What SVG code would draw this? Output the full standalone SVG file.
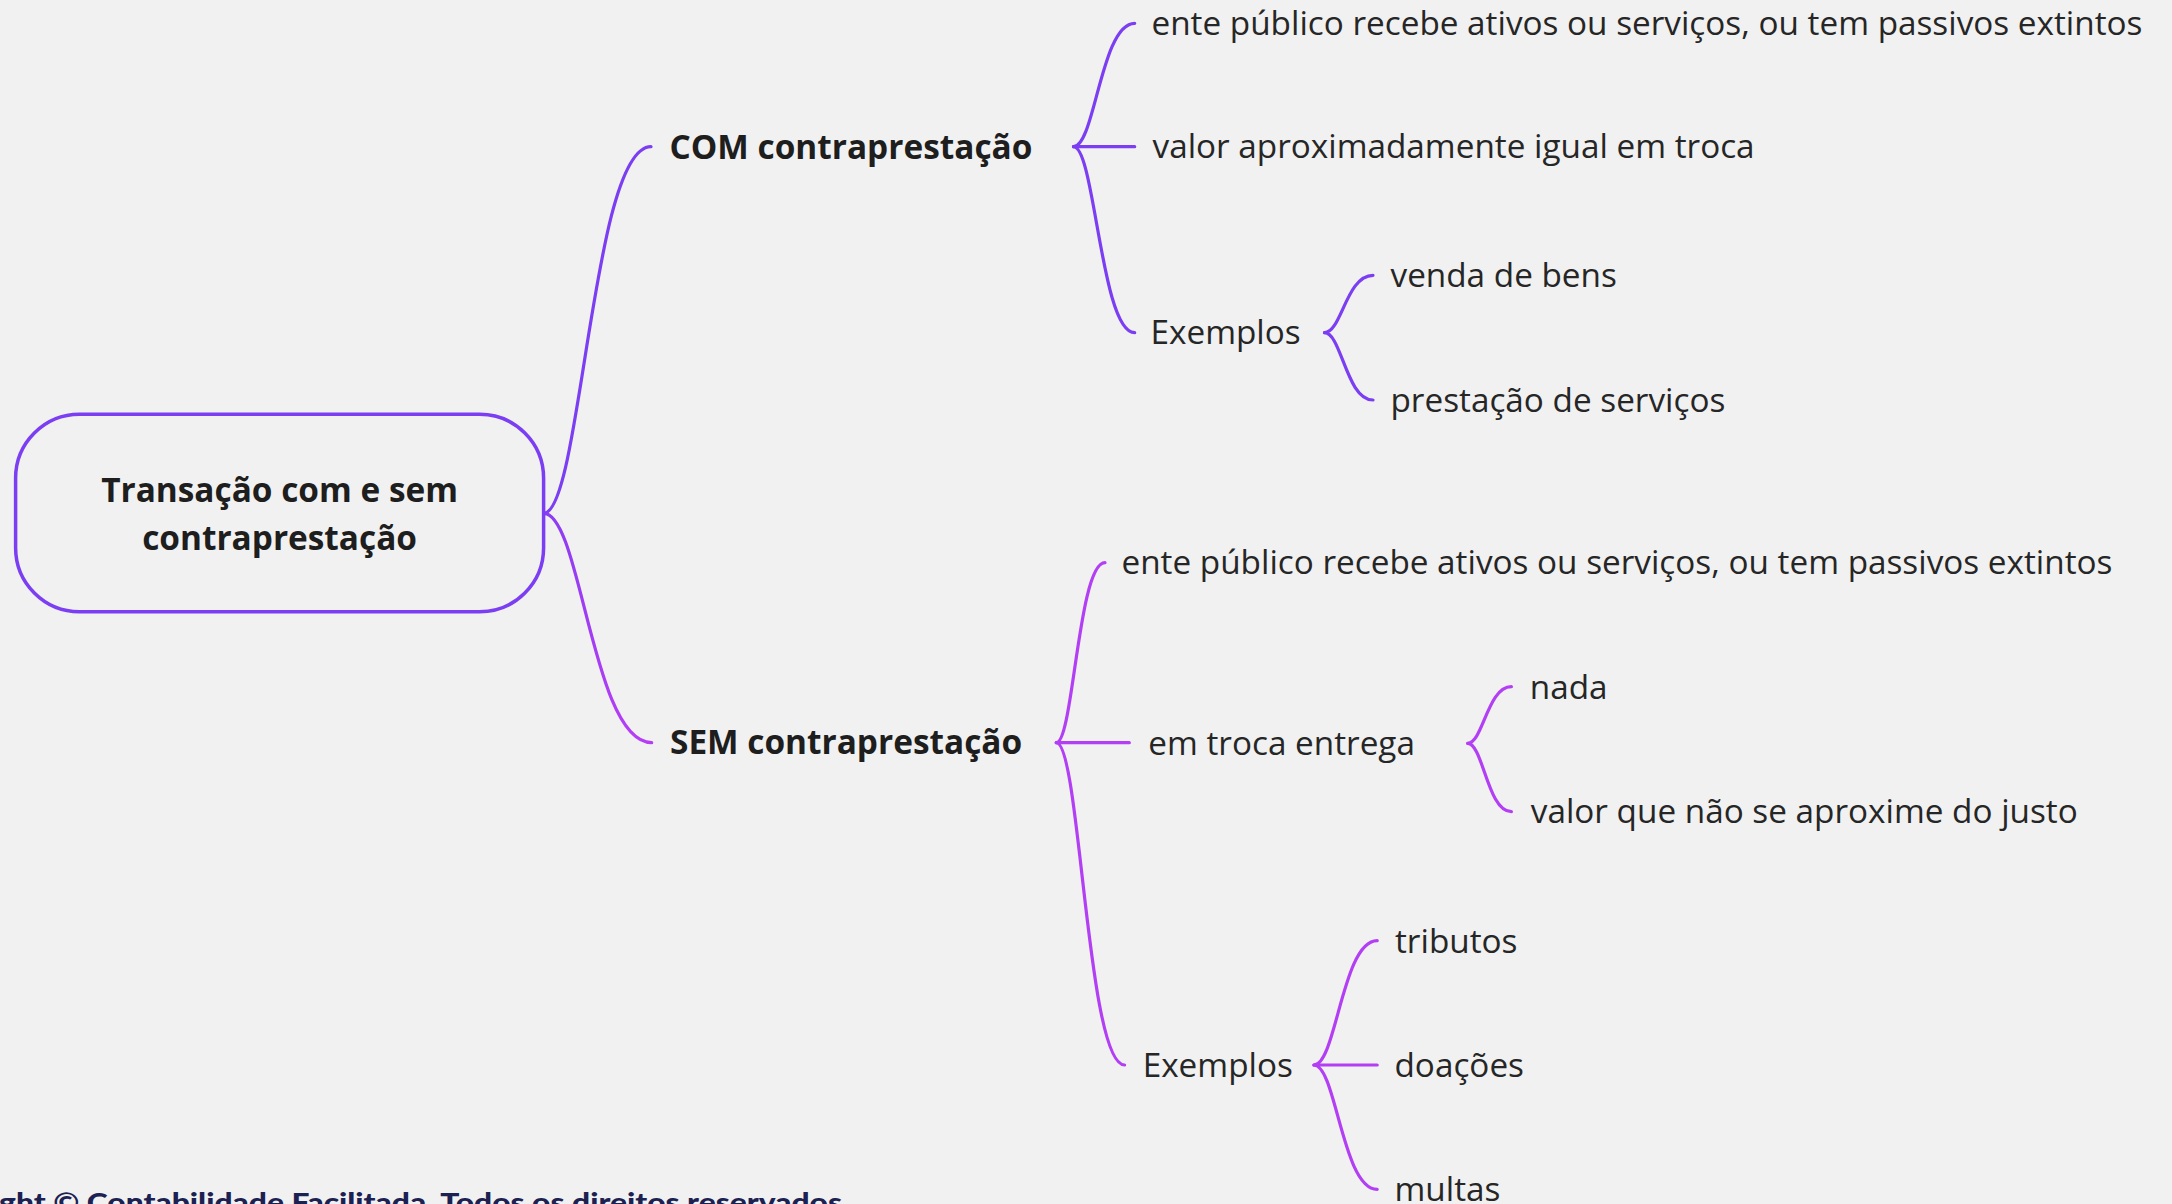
<svg xmlns="http://www.w3.org/2000/svg" width="2172" height="1204" viewBox="0 0 2172 1204">
<defs>
<linearGradient id="gLow" x1="0" y1="0" x2="0" y2="1">
<stop offset="0" stop-color="#8e3cf2"/>
<stop offset="1" stop-color="#b53ef5"/>
</linearGradient>
<style>
.bg{fill:#f1f1f1}
.c{fill:none;stroke-width:3.2;stroke-linecap:round}
.v{stroke:#7b3ef2}
.m{stroke:#b33ff5}
.t{font-family:"Open Sans","Noto Sans","DejaVu Sans",sans-serif;font-size:33.3px;fill:#262626}
.b{font-family:"Open Sans","Noto Sans","DejaVu Sans",sans-serif;font-size:33.4px;font-weight:bold;fill:#1e1e1e}
.root{fill:none;stroke:#7b3ef2;stroke-width:3.5}
.foot{font-family:Lato,"Open Sans",sans-serif;font-size:27px;font-weight:900;fill:#1c2152}
</style>
</defs>
<rect class="bg" x="0" y="0" width="2172" height="1204"/>

<g id="connectors">
<path class="c v" d="M543.7,513.3 C581.3,513.3 592,146.7 651,146.7"/>
<path class="c" stroke="url(#gLow)" d="M543.7,513.3 C581.3,513.3 592.2,742.7 651.7,742.7"/>

<path class="c v" d="M1073.5,146.7 C1094.9,146.7 1101,23.3 1134.7,23.3"/>
<path class="c v" d="M1073.5,146.7 L1134.7,146.7"/>
<path class="c v" d="M1073.5,146.7 C1094.9,146.7 1101,332.7 1134.7,332.7"/>

<path class="c v" d="M1324.5,332.7 C1341.5,332.7 1346.3,275.3 1373,275.3"/>
<path class="c v" d="M1324.5,332.7 C1341.5,332.7 1346.3,400 1373,400"/>

<path class="c m" d="M1056.3,742.7 C1073.3,742.7 1078.2,562.7 1105,562.7"/>
<path class="c m" d="M1056.3,742.7 L1129.3,742.7"/>
<path class="c m" d="M1056.3,742.7 C1080.2,742.7 1087,1065 1124.6,1065"/>

<path class="c m" d="M1467.7,743.3 C1483,743.3 1487.4,686.7 1511.4,686.7"/>
<path class="c m" d="M1467.7,743.3 C1483,743.3 1487.4,811.7 1511.4,811.7"/>

<path class="c m" d="M1314,1065 C1336.1,1065 1342.4,940.7 1377.2,940.7"/>
<path class="c m" d="M1314,1065 L1377.2,1065"/>
<path class="c m" d="M1314,1065 C1336.1,1065 1342.4,1189.3 1377.2,1189.3"/>
</g>

<g id="root">
<rect class="root" x="15.6" y="414.3" width="528" height="197.4" rx="64" ry="64"/>
<text class="b" x="279.6" y="501.5" text-anchor="middle">Transação com e sem</text>
<text class="b" x="279.6" y="549.5" text-anchor="middle">contraprestação</text>
</g>

<g id="com"><text class="b" x="669.5" y="158.5">COM contraprestação</text></g>
<g id="com-ente"><text class="t" x="1151.5" y="34.5">ente público recebe ativos ou serviços, ou tem passivos extintos</text></g>
<g id="com-valor"><text class="t" x="1152.5" y="158.3">valor aproximadamente igual em troca</text></g>
<g id="com-exemplos"><text class="t" x="1150.5" y="344.3">Exemplos</text></g>
<g id="venda"><text class="t" x="1390.5" y="286.8">venda de bens</text></g>
<g id="prestacao"><text class="t" x="1390.5" y="411.5">prestação de serviços</text></g>

<g id="sem"><text class="b" x="670" y="754">SEM contraprestação</text></g>
<g id="sem-ente"><text class="t" x="1121.5" y="574.2">ente público recebe ativos ou serviços, ou tem passivos extintos</text></g>
<g id="em-troca"><text class="t" x="1148.3" y="755">em troca entrega</text></g>
<g id="nada"><text class="t" x="1529.8" y="698.8">nada</text></g>
<g id="valor-justo"><text class="t" x="1530.8" y="822.7">valor que não se aproxime do justo</text></g>
<g id="sem-exemplos"><text class="t" x="1142.7" y="1077">Exemplos</text></g>
<g id="tributos"><text class="t" x="1395" y="952.5">tributos</text></g>
<g id="doacoes"><text class="t" x="1394.5" y="1076.7">doações</text></g>
<g id="multas"><text class="t" x="1394.5" y="1200.8">multas</text></g>

<g id="footer"><text class="foot" x="-1" y="1212" textLength="843" lengthAdjust="spacingAndGlyphs">ght © Contabilidade Facilitada. Todos os direitos reservados</text></g>
</svg>
